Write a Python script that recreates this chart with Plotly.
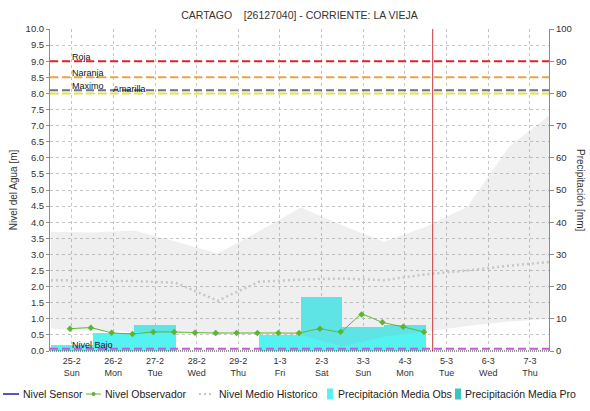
import plotly.graph_objects as go

# ---- data -------------------------------------------------------------
# Daily observed precipitation (mm), one bar per day centred on the date
precip_dates = ["2024-02-25", "2024-02-26", "2024-02-27", "2024-02-28", "2024-02-29",
                "2024-03-01", "2024-03-02", "2024-03-03", "2024-03-04"]
precip_obs = [1.8, 5.6, 8.0, 0.0, 0.0, 5.0, 16.8, 7.5, 8.0]

# Forecast precipitation (mm)
forecast_dates = ["2024-03-05", "2024-03-06", "2024-03-07"]
precip_pro = [0.0, 0.0, 0.0]

# Observer gauge readings (m), twice a day
obs_times = ["2024-02-24 23:00", "2024-02-25 11:00", "2024-02-25 23:00", "2024-02-26 11:00",
             "2024-02-26 23:00", "2024-02-27 11:00", "2024-02-27 23:00", "2024-02-28 11:00",
             "2024-02-28 23:00", "2024-02-29 11:00", "2024-02-29 23:00", "2024-03-01 11:00",
             "2024-03-01 23:00", "2024-03-02 11:00", "2024-03-02 23:00", "2024-03-03 11:00",
             "2024-03-03 23:00", "2024-03-04 11:00"]
obs_level = [0.69, 0.72, 0.57, 0.53, 0.59, 0.59, 0.57, 0.56, 0.56, 0.56,
             0.56, 0.56, 0.69, 0.60, 1.13, 0.89, 0.75, 0.59]

# Historical daily statistics (m)
hist_times = ["2024-02-24 12:00", "2024-02-25 12:00", "2024-02-26 12:00", "2024-02-27 12:00",
              "2024-02-28 12:00", "2024-02-29 12:00", "2024-03-01 12:00", "2024-03-02 12:00",
              "2024-03-03 12:00", "2024-03-04 12:00", "2024-03-05 12:00", "2024-03-06 12:00",
              "2024-03-07 12:00"]
hist_median = [2.20, 2.18, 2.17, 2.12, 1.56, 2.15, 2.22, 2.25, 2.20, 2.38, 2.50, 2.65, 2.77]
hist_min = [0.70, 0.62, 0.60, 0.56, 0.53, 0.52, 0.50, 0.15, 0.45, 0.60, 0.78, 0.92, 1.00]
hist_max = [3.70, 3.68, 3.74, 3.40, 3.03, 3.72, 4.46, 3.90, 3.39, 3.86, 4.48, 6.35, 7.35]

# Alert thresholds (m)
threshold_names = ["Roja", "Naranja", "Maximo", "Amarilla", "Nivel Bajo"]
threshold_values = [9.0, 8.5, 8.1, 8.0, 0.07]

# Current time marker
now_time = "2024-03-04 16:00"

# x-axis ticks
tick_dates = ["2024-02-25", "2024-02-26", "2024-02-27", "2024-02-28", "2024-02-29",
              "2024-03-01", "2024-03-02", "2024-03-03", "2024-03-04", "2024-03-05",
              "2024-03-06", "2024-03-07"]
tick_labels = ["25-2<br>Sun", "26-2<br>Mon", "27-2<br>Tue", "28-2<br>Wed", "29-2<br>Thu",
               "1-3<br>Fri", "2-3<br>Sat", "3-3<br>Sun", "4-3<br>Mon", "5-3<br>Tue",
               "6-3<br>Wed", "7-3<br>Thu"]

# ---- styling ----------------------------------------------------------
FONT = "Liberation Sans, Arial, sans-serif"
TXT = "#333333"
GRID = "#C4C4C4"
CYAN = "#55F2F2"
TEAL = "#3CC3BE"
GREEN = "#5DB434"
threshold_colors = ["#E0202A", "#EBA444", "#6E6E8C", "#E4E43A", "#CC55DD"]
threshold_label_x = ["2024-02-25", "2024-02-25", "2024-02-25", "2024-02-26", "2024-02-25"]

W, H = 590, 411
ML, MR, MT, MB = 50, 41, 29, 60
PW, PH = W - ML - MR, H - MT - MB


def px_x(px):
    return (px - ML) / PW


def px_y(py):
    return (H - MB - py) / PH


fig = go.Figure()

# precipitation bars on the right-hand axis (base layer)
fig.add_trace(go.Bar(x=precip_dates, y=precip_obs, width=86400000, name="Precipitación Media Obs",
                     marker=dict(color=CYAN, line=dict(width=0)), yaxis="y"))
fig.add_trace(go.Bar(x=forecast_dates, y=precip_pro, width=86400000, name="Precipitación Media Pro",
                     marker=dict(color=TEAL, line=dict(width=0)), yaxis="y"))

# historical range band
fig.add_trace(go.Scatter(x=hist_times, y=hist_min, mode="lines", line=dict(width=0),
                         hoverinfo="skip", showlegend=False, yaxis="y2"))
fig.add_trace(go.Scatter(x=hist_times, y=hist_max, mode="lines", line=dict(width=0),
                         fill="tonexty", fillcolor="rgba(150,150,150,0.15)",
                         hoverinfo="skip", showlegend=False, yaxis="y2"))

# historical median
fig.add_trace(go.Scatter(x=hist_times, y=hist_median, mode="lines", name="Nivel Medio Historico",
                         line=dict(color="#C6C6C6", width=2.5, dash="2px,3px"), yaxis="y2"))

# observer readings
fig.add_trace(go.Scatter(x=obs_times, y=obs_level, mode="lines+markers", name="Nivel Observador",
                         line=dict(color=GREEN, width=1, shape="spline", smoothing=0.5),
                         marker=dict(symbol="diamond", size=5, color=GREEN), yaxis="y2"))

shapes = []
annotations = []

# threshold lines and their labels
for name, val, col, lx in zip(threshold_names, threshold_values, threshold_colors, threshold_label_x):
    shapes.append(dict(type="line", xref="paper", x0=0, x1=1, yref="y2", y0=val, y1=val,
                       line=dict(color=col, width=2, dash="8px,4px"), layer="above"))
    annotations.append(dict(x=lx, y=val, xref="x", yref="y2", text=name, showarrow=False,
                            xanchor="left", yanchor="middle", yshift=4, xshift=-2,
                            font=dict(family=FONT, size=9, color="#111111")))

# current time marker
shapes.append(dict(type="line", xref="x", x0=now_time, x1=now_time, yref="paper", y0=0, y1=1,
                   line=dict(color="#C8323C", width=1), layer="above"))

# dotted bottom axis
shapes.append(dict(type="line", xref="paper", x0=0, x1=1, yref="paper", y0=0, y1=0,
                   line=dict(color="#333333", width=1, dash="1px,1px"), layer="above"))

# right-hand axis title (reads top to bottom)
annotations.append(dict(x=px_x(581), y=0.5, xref="paper", yref="paper", text="Precipitación [mm]",
                        textangle=90, showarrow=False, xanchor="center", yanchor="middle",
                        font=dict(family=FONT, size=10, color=TXT)))

# legend row
ly = px_y(394)
legend_font = dict(family=FONT, size=10.5, color="#222222")
shapes.append(dict(type="line", xref="paper", yref="paper", x0=px_x(3), x1=px_x(19), y0=ly, y1=ly,
                   line=dict(color="#1C1CA8", width=1.5)))
shapes.append(dict(type="line", xref="paper", yref="paper", x0=px_x(86), x1=px_x(101), y0=ly, y1=ly,
                   line=dict(color=GREEN, width=1)))
shapes.append(dict(type="circle", xref="paper", yref="paper", x0=px_x(91.5), x1=px_x(95.5),
                   y0=px_y(396), y1=px_y(392), fillcolor=GREEN, line=dict(width=0)))
shapes.append(dict(type="line", xref="paper", yref="paper", x0=px_x(199), x1=px_x(214), y0=ly, y1=ly,
                   line=dict(color="#C6C6C6", width=2, dash="2px,3px")))
shapes.append(dict(type="rect", xref="paper", yref="paper", x0=px_x(327), x1=px_x(333),
                   y0=px_y(399.5), y1=px_y(388.5), fillcolor=CYAN, line=dict(width=0)))
shapes.append(dict(type="rect", xref="paper", yref="paper", x0=px_x(455), x1=px_x(461),
                   y0=px_y(399.5), y1=px_y(388.5), fillcolor=TEAL, line=dict(width=0)))
for txt, x in [("Nivel Sensor", 21), ("Nivel Observador", 103), ("Nivel Medio Historico", 217),
               ("Precipitación Media Obs", 336), ("Precipitación Media Pro", 463)]:
    annotations.append(dict(x=px_x(x), y=ly, xref="paper", yref="paper", text=txt, showarrow=False,
                            xanchor="left", yanchor="middle", font=legend_font))

fig.update_layout(
    width=W, height=H,
    margin=dict(l=ML, r=MR, t=MT, b=MB),
    paper_bgcolor="white", plot_bgcolor="white",
    showlegend=False, bargap=0, barmode="overlay",
    font=dict(family=FONT, size=9, color=TXT),
    title=dict(text="CARTAGO\u00a0\u00a0\u00a0\u00a0[26127040] - CORRIENTE: LA VIEJA",
               x=0.5, xref="paper", xanchor="center", y=1 - 15 / H, yref="container",
               yanchor="middle", font=dict(family=FONT, size=10.5, color=TXT)),
    xaxis=dict(type="date", range=["2024-02-24 11:30", "2024-03-07 11:00"],
               tickvals=tick_dates, ticktext=tick_labels, tickfont=dict(size=9),
               ticklabelstandoff=3,
               showgrid=True, gridcolor=GRID, griddash="dot", gridwidth=1,
               showline=False, ticks="", zeroline=False),
    yaxis=dict(range=[0, 100], dtick=10, side="right", showgrid=False, zeroline=False,
               showline=True, linecolor="#8C8C8C", ticks="outside", ticklen=4,
               tickcolor="#8C8C8C", tickfont=dict(size=9.5)),
    yaxis2=dict(range=[0, 10], dtick=0.5, tickformat=".1f", side="left", overlaying="y",
                showgrid=True, gridcolor=GRID, griddash="dot", gridwidth=1, zeroline=False,
                showline=True, linecolor="#8C8C8C", ticks="outside", ticklen=3,
                tickcolor="#8C8C8C", tickfont=dict(size=9.5),
                title=dict(text="Nivel del Agua [m]", standoff=6,
                           font=dict(family=FONT, size=10, color=TXT))),
    shapes=shapes,
    annotations=annotations,
)

fig.write_html("out.html")
